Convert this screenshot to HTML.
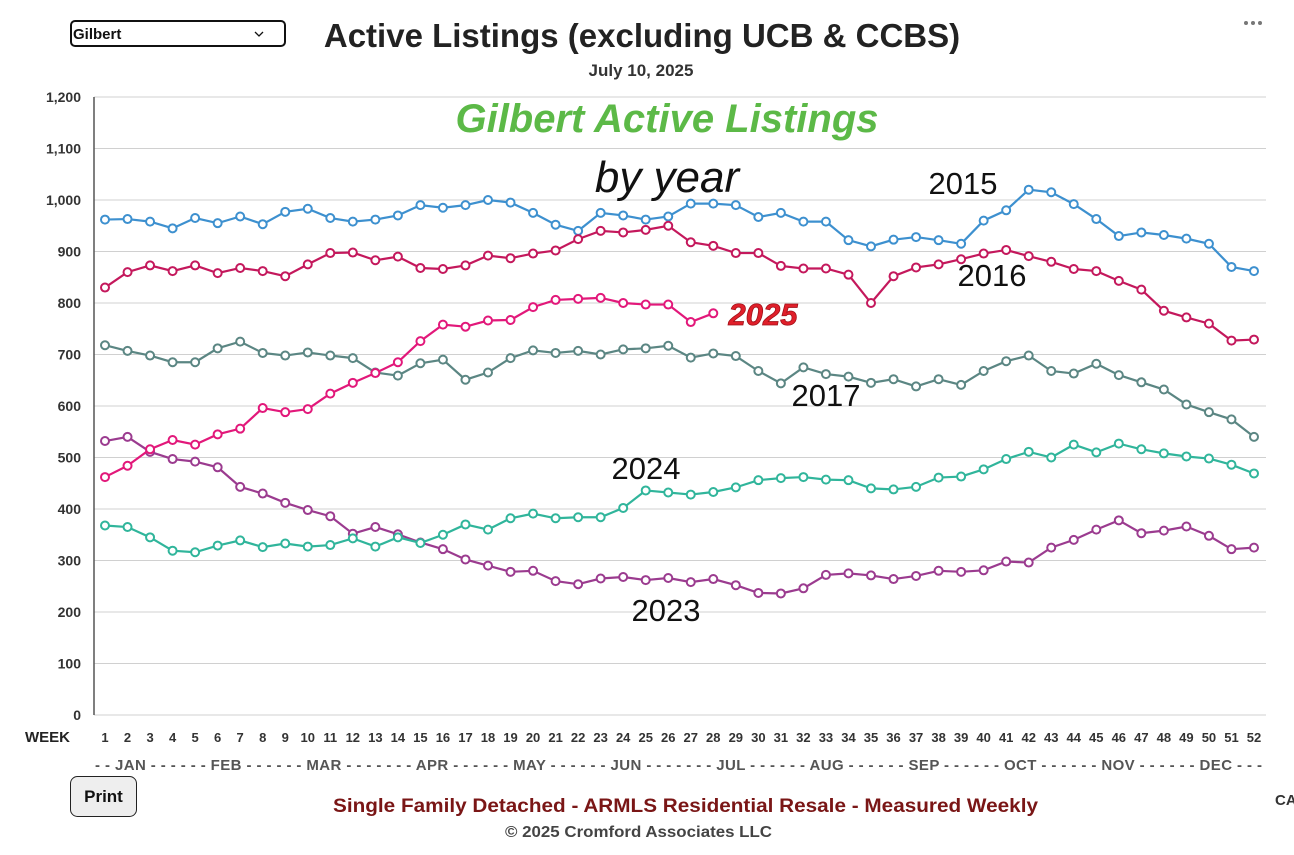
<!DOCTYPE html>
<html><head><meta charset="utf-8"><style>
body{margin:0;background:#fff;width:1294px;height:855px;overflow:hidden;font-family:"Liberation Sans",sans-serif}
svg{position:absolute;left:0;top:0}
</style></head><body>
<svg id="chart" width="1294" height="855">
<g>
<rect x="71" y="21" width="214" height="25" rx="4" fill="#fff" stroke="#111" stroke-width="2"/>
<text x="73" y="39" font-size="15" font-weight="bold" fill="#111">Gilbert</text>
<path d="M255 32 l4 4 l4 -4" fill="none" stroke="#111" stroke-width="1.3"/>
</g>
<text x="642" y="47" text-anchor="middle" font-size="33" font-weight="bold" fill="#222">Active Listings (excluding UCB &amp; CCBS)</text>
<text x="641" y="76" text-anchor="middle" font-size="17" font-weight="bold" fill="#333">July 10, 2025</text>
<g fill="#777"><circle cx="1246" cy="23" r="2"/><circle cx="1253" cy="23" r="2"/><circle cx="1260" cy="23" r="2"/></g>
<g id="grid"></g>
<g id="yticks"></g>
<g id="xticks"></g>
<text x="25" y="742" font-size="15" font-weight="bold" fill="#222">WEEK</text>
<text x="95" y="770" font-size="15" font-weight="bold" fill="#555" textLength="1167" lengthAdjust="spacing">- - JAN - - - - - - FEB - - - - - - MAR - - - - - - - APR - - - - - - MAY - - - - - - JUN - - - - - - - JUL - - - - - - AUG - - - - - - SEP - - - - - - OCT - - - - - - NOV - - - - - - DEC - - -</text>
<g id="series"></g>
<text x="667" y="132" text-anchor="middle" font-size="40" font-weight="bold" font-style="italic" fill="#5cb947">Gilbert Active Listings</text>
<text x="667" y="192" text-anchor="middle" font-size="44" font-style="italic" fill="#111">by year</text>
<text x="963" y="194" text-anchor="middle" font-size="31" fill="#111">2015</text>
<text x="992" y="286" text-anchor="middle" font-size="31" fill="#111">2016</text>
<text x="826" y="406" text-anchor="middle" font-size="31" fill="#111">2017</text>
<text x="646" y="479" text-anchor="middle" font-size="31" fill="#111">2024</text>
<text x="666" y="621" text-anchor="middle" font-size="31" fill="#111">2023</text>
<text x="763" y="325" text-anchor="middle" font-size="31" font-weight="bold" font-style="italic" fill="#e01f2a" stroke="#a01018" stroke-width="0.8">2025</text>
<g>
<rect x="70.5" y="776.5" width="66" height="40" rx="7" fill="#eee" stroke="#222"/>
<text x="103.5" y="802" text-anchor="middle" font-size="17" font-weight="bold" fill="#111">Print</text>
</g>
<text x="333" y="812" font-size="19" font-weight="bold" fill="#7a1616" textLength="705" lengthAdjust="spacingAndGlyphs">Single Family Detached - ARMLS Residential Resale - Measured Weekly</text>
<text x="505" y="837" font-size="16" font-weight="bold" fill="#444" textLength="267" lengthAdjust="spacingAndGlyphs">© 2025 Cromford Associates LLC</text>
<text x="1275" y="805" font-size="15" font-weight="bold" fill="#333">CA</text>
</svg>
<script>
const weeks = Array.from({length:52},(_,i)=>i+1);
const yTicks = [0,100,200,300,400,500,600,700,800,900,1000,1100,1200];
const yTickLabels = ["0","100","200","300","400","500","600","700","800","900","1,000","1,100","1,200"];
const s2015 = [962,963,958,945,965,955,968,953,977,983,965,958,962,970,990,985,990,1000,995,975,952,940,975,970,962,968,993,993,990,967,975,958,958,922,910,923,928,922,915,960,980,1020,1015,992,963,930,937,932,925,915,870,862];
const s2016 = [830,860,873,862,873,858,868,862,852,875,897,898,883,890,868,866,873,892,887,896,902,924,940,937,942,950,918,911,897,897,872,867,867,855,800,852,869,875,885,896,903,891,880,866,862,843,826,785,772,760,727,729];
const s2017 = [718,707,698,685,685,712,725,703,698,704,698,693,665,659,683,690,651,665,693,708,703,707,700,710,712,717,694,702,697,668,644,675,662,657,645,652,638,652,641,668,687,698,668,663,682,660,646,632,603,588,574,540];
const s2023 = [532,540,511,497,492,481,443,430,412,398,386,352,365,351,335,322,302,290,278,280,260,254,265,268,262,266,258,264,252,237,236,246,272,275,271,264,270,280,278,281,298,296,325,340,360,378,353,358,366,348,322,325];
const s2024 = [368,365,345,319,316,329,339,326,333,327,330,343,327,345,334,350,370,360,382,391,382,384,384,402,436,432,428,433,442,456,460,462,457,456,440,438,443,461,463,477,497,511,500,525,510,527,516,508,502,498,486,469];
const s2025 = [462,484,516,534,525,545,556,596,588,594,624,645,664,685,726,758,754,766,767,792,806,808,810,800,797,797,763,780];
const seriesNames = ["2015","2016","2017","2023","2024","2025"];
const seriesData = [s2015,s2016,s2017,s2023,s2024,s2025];
const seriesColors = ["#3d90cf","#c4185c","#5b8683","#9b3b8f","#30b59b","#e2187a"];

const NS="http://www.w3.org/2000/svg";
const X0=94,X1=1266,Y0=715,Y1=97;
const xs=w=>105+(w-1)*(1254-105)/51;
const ys=v=>Y0-(v/1200)*(Y0-Y1);
function mk(tag,attrs,parent){const e=document.createElementNS(NS,tag);for(const k in attrs)e.setAttribute(k,attrs[k]);parent.appendChild(e);return e;}
const grid=document.getElementById('grid'),yt=document.getElementById('yticks'),xt=document.getElementById('xticks'),sg=document.getElementById('series');
yTicks.forEach((t,i)=>{
 const l=mk('line',{x1:X0,x2:X1,y1:ys(t),y2:ys(t),stroke:'#d0d0d0','stroke-width':1},grid);
 
 
 const tx=mk('text',{x:81,y:ys(t)+5,'text-anchor':'end','font-size':14,'font-weight':'bold',fill:'#333'},yt);
 tx.textContent=yTickLabels[i];
 
 
});
const ax=mk('line',{x1:X0,x2:X0,y1:Y1,y2:Y0,stroke:'#555','stroke-width':1.5},grid);


weeks.forEach(w=>{
 const tx=mk('text',{x:xs(w),y:742,'text-anchor':'middle','font-size':13,'font-weight':'bold',fill:'#333'},xt);
 tx.textContent=w;
 
 
});
seriesData.forEach((d,si)=>{
 const g=mk('g',{},sg);
 
 
 const pts=d.map((v,i)=>xs(i+1)+','+ys(v)).join(' ');
 const pl=mk('polyline',{points:pts,fill:'none',stroke:seriesColors[si],'stroke-width':2.2},g);
 
 
 d.forEach((v,i)=>{
  const c=mk('circle',{cx:xs(i+1),cy:ys(v),r:4,fill:'#fff',stroke:seriesColors[si],'stroke-width':2},g);
  
  
 });
});
</script>
</body></html>
